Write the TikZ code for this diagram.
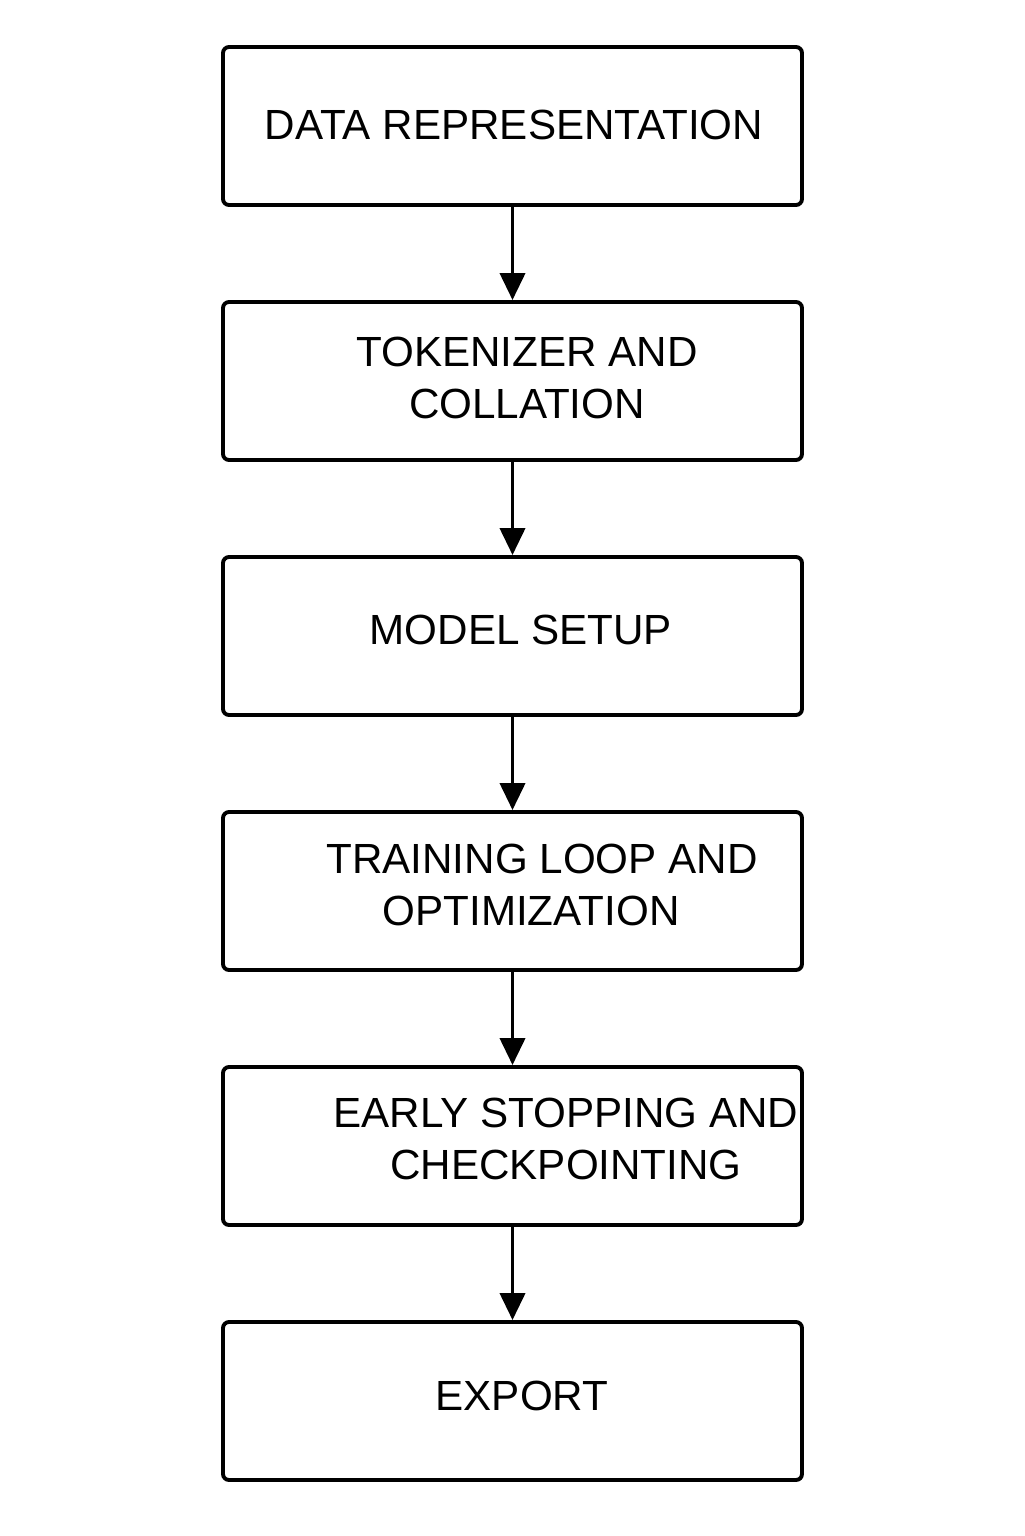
\documentclass[tikz,border=0pt]{standalone}
\usepackage{fontspec}
\setmainfont{Liberation Sans}
\usepackage{tikz}
\usetikzlibrary{arrows.meta}

\tikzset{
  stagebox/.style={draw, line width=1.1pt, rounded corners=0.06cm,
    minimum width=5.79cm, minimum height=1.58cm, inner sep=0pt},
  stagetext/.style={font=\fontsize{12}{14.8}\selectfont, align=center, inner sep=0pt},
  flow/.style={line width=1.1pt, -{Triangle[length=0.27cm, width=0.25cm]}}
}

\begin{document}
\begin{tikzpicture}
        \useasboundingbox (0,0) rectangle (10.24,-15.36);
        \node [stagebox] (data)   at (5.125,-1.26)  {};            %
        \node [stagebox] (tok)    at (5.125,-3.81)  {};            %
        \node [stagebox] (model)  at (5.125,-6.36)  {};            %
        \node [stagebox] (train)  at (5.125,-8.91)  {};            %
        \node [stagebox] (early)  at (5.125,-11.46) {};            %
        \node [stagebox] (export) at (5.125,-14.01) {};            %
        \node [stagetext] (datat)   at (5.14,-1.25)  {DATA REPRESENTATION};
        \node [stagetext] (tokt)    at (5.27,-3.78)  {TOKENIZER AND\\COLLATION};
        \node [stagetext] (modelt)  at (5.21,-6.30)  {MODEL SETUP};
        \node [stagetext] (traint)  at (5.42,-8.85)  {TRAINING LOOP AND\\\hspace*{-0.22cm}OPTIMIZATION};
        \node [stagetext] (earlyt)  at (5.66,-11.39) {EARLY STOPPING AND\\CHECKPOINTING};
        \node [stagetext] (exportt) at (5.22,-13.96) {EXPORT};
        \draw [flow] (data)  -- (tok);                             %
        \draw [flow] (tok)   -- (model);                           %
        \draw [flow] (model) -- (train);                           %
        \draw [flow] (train) -- (early);                           %
        \draw [flow] (early) -- (export);                          %
\end{tikzpicture}
\end{document}
